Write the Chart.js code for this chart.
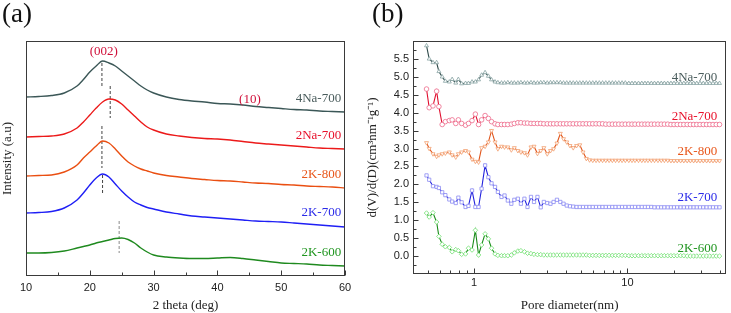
<!DOCTYPE html>
<html>
<head>
<meta charset="utf-8">
<script src="https://cdn.jsdelivr.net/npm/chart.js@4.4.1/dist/chart.umd.min.js"></script>
<style>
  html, body { margin: 0; padding: 0; background: #fff; }
  #wrap { position: relative; width: 731px; height: 313px; overflow: hidden; }
  .panel { position: absolute; top: 0; height: 313px; }
  #boxA { left: 0; width: 365px; }
  #boxB { left: 365px; width: 366px; }
  .tag { position: absolute; top: -2px; font-family: 'Liberation Serif', serif; font-size: 27px; color: #111; }
</style>
</head>
<body>
<div id="wrap">
  <div class="panel" id="boxA"><canvas id="chartA"></canvas></div>
  <div class="panel" id="boxB"><canvas id="chartB"></canvas></div>
  <div class="tag" style="left:2px">(a)</div>
  <div class="tag" style="left:372px">(b)</div>
</div>
<script>
const sampleNames = ['4Na-700', '2Na-700', '2K-800', '2K-700', '2K-600'];

// (a) XRD patterns, intensity in arbitrary units (curves stacked)
const xrdAngles = [10, 12, 14, 16, 18, 19, 20, 21, 22, 23, 24, 25, 26, 27, 28, 29,
                   30, 32, 34, 36, 38, 40, 42, 44, 46, 48, 50, 52, 54, 56, 58, 60];
const xrd4Na700 = [179, 179.5, 180.5, 183, 190, 196.5, 204, 210, 215, 213, 210, 205, 200, 195, 190, 186,
                   183, 179, 176.5, 175, 174, 172.5, 172, 171, 169.5, 168.5, 167.5, 166.5, 166, 165, 164.5, 164];
const xrd2Na700 = [139, 139.5, 140, 142, 148, 154, 161, 168, 174, 177, 176, 172, 166, 160, 154, 149,
                   146, 142, 140, 138.5, 137.5, 137, 136, 134.5, 133, 132, 131, 130, 129, 128, 127.5, 127];
const xrd2K800 = [100, 100.5, 101, 104, 111, 118, 124, 130, 135, 133, 127, 120, 114, 110, 107, 105,
                  103, 100.5, 99, 97.5, 96.5, 95.5, 95, 94, 93, 92.5, 91.5, 91, 90, 89.5, 89, 88];
const xrd2K700 = [63, 63.5, 64.5, 68, 76, 83, 91, 98, 102, 99, 92, 85, 79, 74, 71, 68.5,
                  67, 64, 62, 60, 59, 58, 57, 56, 55, 54.5, 54, 53, 52, 51, 50, 49];
const xrd2K600 = [23, 23, 23.5, 25, 28, 29.5, 31, 33, 34.5, 36, 37.5, 38, 36.5, 33, 28, 24,
                  21, 19, 18, 17.5, 17.5, 18, 18.5, 17.5, 16, 14.5, 13, 12.5, 12, 11, 10.5, 10];
const xrdPeakAngles = [21.9, 23.2, 21.9, 22.0, 24.6];
const xrdPeakTops = [213, 190, 150, 101, 55];
const xrdPeakBottoms = [188, 158, 108, 81, 23];
const xrdPlaneNames = ['(002)', '(10)'];
const xrdTicks = [10, 20, 30, 40, 50, 60];
const xrdMinorTicks = [15, 25, 35, 45, 55];

// (b) pore size distribution
const poreDiameters = [
  0.49, 0.51, 0.54, 0.57, 0.59, 0.62, 0.65, 0.69, 0.72, 0.76,
  0.79, 0.83, 0.88, 0.92, 0.97, 1.02, 1.07, 1.12, 1.18, 1.24,
  1.30, 1.37, 1.43, 1.51, 1.58, 1.66, 1.75, 1.83, 1.93, 2.02,
  2.13, 2.23, 2.35, 2.46, 2.59, 2.72, 2.85, 3.00, 3.15, 3.30,
  3.47, 3.65, 3.83, 4.02, 4.22, 4.43, 4.66, 4.89, 5.13, 5.39,
  5.66, 5.94, 6.24, 6.55, 6.88, 7.22, 7.59, 7.97, 8.36, 8.78,
  9.22, 9.68, 10.2, 10.7, 11.2, 11.8, 12.4, 13.0, 13.6, 14.3,
  15.0, 15.8, 16.6, 17.4, 18.3, 19.2, 20.1, 21.1, 22.2, 23.3,
  24.5, 25.7, 27.0, 28.3, 29.7, 31.2, 32.8, 34.4, 36.1, 37.9, 39.8];
const pore4Na700 = [
  5.87, 5.50, 5.40, 5.40, 5.15, 5.00, 4.88, 4.86, 4.93, 4.83,
  4.93, 4.81, 4.82, 4.82, 4.86, 4.86, 4.92, 5.05, 5.12, 5.02,
  4.92, 4.86, 4.84, 4.83, 4.83, 4.84, 4.83, 4.83, 4.83, 4.84,
  4.83, 4.83, 4.84, 4.83, 4.83, 4.84, 4.84, 4.83, 4.84, 4.84,
  4.84, 4.84, 4.83, 4.83, 4.83, 4.83, 4.83, 4.83, 4.83, 4.83,
  4.83, 4.83, 4.83, 4.83, 4.83, 4.83, 4.83, 4.83, 4.83, 4.83,
  4.83, 4.83, 4.82, 4.82, 4.82, 4.82, 4.82, 4.82, 4.82, 4.82,
  4.82, 4.82, 4.82, 4.82, 4.82, 4.82, 4.82, 4.82, 4.82, 4.82,
  4.82, 4.82, 4.82, 4.82, 4.82, 4.82, 4.82, 4.82, 4.82, 4.82, 4.82];
const pore2Na700 = [
  4.66, 4.14, 4.19, 4.60, 4.17, 3.67, 3.75, 3.78, 3.80, 3.70,
  3.80, 3.70, 3.65, 3.70, 3.78, 3.96, 3.67, 3.80, 3.92, 3.84,
  3.75, 3.69, 3.67, 3.67, 3.67, 3.67, 3.68, 3.70, 3.72, 3.72,
  3.71, 3.71, 3.70, 3.70, 3.70, 3.70, 3.69, 3.69, 3.69, 3.69,
  3.69, 3.69, 3.69, 3.69, 3.69, 3.69, 3.69, 3.69, 3.69, 3.69,
  3.69, 3.69, 3.69, 3.69, 3.69, 3.68, 3.68, 3.68, 3.68, 3.68,
  3.68, 3.68, 3.68, 3.68, 3.68, 3.68, 3.68, 3.68, 3.68, 3.68,
  3.68, 3.68, 3.68, 3.68, 3.68, 3.67, 3.67, 3.67, 3.67, 3.67,
  3.67, 3.67, 3.67, 3.67, 3.67, 3.67, 3.67, 3.67, 3.67, 3.67, 3.67];
const pore2K800 = [
  3.16, 3.00, 2.85, 2.78, 2.82, 2.85, 2.87, 2.90, 2.82, 2.76,
  2.85, 2.90, 2.94, 2.90, 2.70, 2.64, 2.62, 3.02, 3.06, 3.18,
  3.50, 3.18, 2.99, 3.06, 3.04, 3.04, 2.96, 3.02, 2.94, 2.90,
  2.88, 2.82, 3.04, 3.06, 2.86, 2.94, 3.02, 2.85, 2.94, 2.99,
  3.15, 3.42, 3.27, 3.18, 3.08, 3.02, 3.08, 3.10, 2.90, 2.72,
  2.68, 2.67, 2.67, 2.67, 2.67, 2.67, 2.67, 2.67, 2.67, 2.67,
  2.67, 2.67, 2.67, 2.67, 2.67, 2.67, 2.67, 2.67, 2.67, 2.67,
  2.67, 2.67, 2.67, 2.67, 2.67, 2.66, 2.66, 2.66, 2.66, 2.66,
  2.66, 2.66, 2.66, 2.66, 2.66, 2.66, 2.66, 2.66, 2.66, 2.66, 2.66];
const pore2K700 = [
  2.25, 2.13, 1.95, 1.93, 1.90, 1.78, 1.70, 1.58, 1.52, 1.48,
  1.63, 1.50, 1.37, 1.40, 1.83, 1.37, 1.37, 1.88, 2.53, 2.20,
  2.03, 1.93, 1.79, 1.65, 1.69, 1.55, 1.46, 1.57, 1.60, 1.46,
  1.60, 1.37, 1.65, 1.51, 1.65, 1.36, 1.51, 1.48, 1.46, 1.51,
  1.57, 1.51, 1.46, 1.41, 1.39, 1.38, 1.37, 1.37, 1.37, 1.37,
  1.37, 1.37, 1.37, 1.37, 1.37, 1.37, 1.37, 1.37, 1.37, 1.37,
  1.37, 1.37, 1.37, 1.37, 1.37, 1.37, 1.37, 1.37, 1.37, 1.37,
  1.36, 1.36, 1.36, 1.36, 1.36, 1.36, 1.36, 1.36, 1.36, 1.36,
  1.36, 1.36, 1.36, 1.36, 1.36, 1.36, 1.36, 1.36, 1.36, 1.36, 1.36];
const pore2K600 = [
  1.20, 1.09, 1.21, 0.95, 0.55, 0.33, 0.26, 0.24, 0.12, 0.18,
  0.15, 0.05, 0.06, 0.22, 0.17, 0.72, 0.03, 0.31, 0.62, 0.48,
  0.22, 0.06, 0.02, 0.01, 0.01, 0.01, 0.03, 0.09, 0.14, 0.15,
  0.12, 0.08, 0.07, 0.05, 0.04, 0.04, 0.03, 0.03, 0.03, 0.03,
  0.03, 0.03, 0.03, 0.03, 0.03, 0.03, 0.03, 0.03, 0.03, 0.03,
  0.02, 0.02, 0.02, 0.02, 0.02, 0.02, 0.02, 0.02, 0.02, 0.02,
  0.02, 0.02, 0.01, 0.01, 0.01, 0.01, 0.01, 0.01, 0.01, 0.01,
  0.01, 0.01, 0.01, 0.01, 0.01, 0.01, 0.01, 0.01, 0.01, 0.01,
  0.00, 0.00, 0.00, 0.00, 0.00, 0.00, 0.00, 0.00, 0.00, 0.00, 0.00];
const poreXTicks = [1, 10];
const poreXMinorTicks = [0.5, 0.6, 0.7, 0.8, 0.9, 2, 3, 4, 5, 6, 7, 8, 9, 20, 30, 40];
const poreYTicks = [0, 0.5, 1, 1.5, 2, 2.5, 3, 3.5, 4, 4.5, 5, 5.5];
const poreYMinorTicks = [-0.25, 0.25, 0.75, 1.25, 1.75, 2.25, 2.75, 3.25, 3.75, 4.25, 4.75, 5.25, 5.75];

const xrdColors = ['#3b5757', '#ec1a1a', '#ea4f12', '#1f1ff5', '#1f8a1f'];
const poreLineColors = ['#2f4a4a', '#e01030', '#e0541a', '#2222dd', '#178a17'];
const porePointColors = ['#88a3a3', '#ee6a8a', '#f2a070', '#8a8af2', '#6fe06f'];
const poreMarkers = [['triangle', 0], ['circle', 0], ['triangle', 180], ['rect', 0], ['rectRot', 0]];
const labelColors = ['#4a5c5c', '#e8102a', '#e8561a', '#2a2ae8', '#1f951f'];

const serif = "'Liberation Serif', 'Times New Roman', serif";
const sans = "'Liberation Sans', Arial, sans-serif";

// box round the plot area, plus inward tick marks
const framePlugin = {
  id: 'frame',
  afterDatasetsDraw(chart, args, opts) {
    const {ctx, chartArea: a, scales} = chart;
    ctx.save();
    ctx.strokeStyle = '#3a3a3a';
    ctx.lineWidth = 1;
    ctx.strokeRect(Math.round(a.left) + 0.5, Math.round(a.top) + 0.5,
                   Math.round(a.right - a.left) - 1, Math.round(a.bottom - a.top) - 1);
    const tick = (x1, y1, x2, y2) => { ctx.beginPath(); ctx.moveTo(x1, y1); ctx.lineTo(x2, y2); ctx.stroke(); };
    const b = Math.round(a.bottom) - 0.5, l = Math.round(a.left) + 0.5;
    (opts.xMajor || []).forEach(v => { const x = Math.round(scales.x.getPixelForValue(v)) + 0.5; tick(x, b, x, b - 5); });
    (opts.xMinor || []).forEach(v => { const x = Math.round(scales.x.getPixelForValue(v)) + 0.5; tick(x, b, x, b - 3); });
    (opts.yMajor || []).forEach(v => { const y = Math.round(scales.y.getPixelForValue(v)) + 0.5; tick(l, y, l + 5, y); });
    (opts.yMinor || []).forEach(v => { const y = Math.round(scales.y.getPixelForValue(v)) + 0.5; tick(l, y, l + 3, y); });
    ctx.restore();
  }
};

// text placed at data coordinates
const textPlugin = {
  id: 'texts',
  afterDatasetsDraw(chart, args, opts) {
    const {ctx, scales} = chart;
    ctx.save();
    ctx.textBaseline = 'middle';
    (opts.items || []).forEach(t => {
      ctx.font = (t.size || 13) + 'px ' + serif;
      ctx.fillStyle = t.color;
      ctx.textAlign = t.align || 'center';
      ctx.fillText(t.text, scales.x.getPixelForValue(t.x), scales.y.getPixelForValue(t.y));
    });
    ctx.restore();
  }
};

// ---------- panel (a) ----------
const xrdSeries = [xrd4Na700, xrd2Na700, xrd2K800, xrd2K700, xrd2K600];
const xrdLabelHeights = [177, 140, 101, 63, 23];
const xrdDatasets = xrdSeries.map((s, i) => ({
  label: sampleNames[i],
  data: xrdAngles.map((a, k) => ({x: a, y: s[k]})),
  borderColor: xrdColors[i],
  borderWidth: 1.4,
  pointRadius: 0,
  tension: 0.4,
  cubicInterpolationMode: 'monotone'
}));
xrdPeakAngles.forEach((a, i) => {
  xrdDatasets.push({
    data: [{x: a, y: xrdPeakTops[i]}, {x: a, y: xrdPeakBottoms[i]}],
    borderColor: i === 4 ? '#8a8a8a' : '#444',
    borderWidth: 1,
    borderDash: [3, 2],
    pointRadius: 0
  });
});

new Chart(document.getElementById('chartA'), {
  type: 'line',
  data: {datasets: xrdDatasets},
  options: {
    responsive: true,
    maintainAspectRatio: false,
    animation: false,
    layout: {padding: {left: 0, top: 41, right: 20, bottom: 0}},
    scales: {
      x: {
        type: 'linear', min: 10, max: 60,
        grid: {display: false, drawTicks: false},
        border: {display: false},
        afterBuildTicks: s => { s.ticks = xrdTicks.map(v => ({value: v})); },
        afterFit: s => { s.height = 37; },
        ticks: {padding: 5, color: '#222', font: {family: sans, size: 11}, maxRotation: 0},
        title: {display: true, text: '2 theta (deg)', color: '#222', padding: 0, font: {family: serif, size: 13}}
      },
      y: {
        type: 'linear', min: 0, max: 235,
        grid: {display: false, drawTicks: false},
        border: {display: false},
        ticks: {display: false},
        afterFit: s => { s.width = 26; },
        title: {display: true, text: 'Intensity (a.u)', color: '#222', padding: 0, font: {family: serif, size: 13}}
      }
    },
    plugins: {
      legend: {display: false},
      tooltip: {enabled: false},
      frame: {xMajor: xrdTicks, xMinor: xrdMinorTicks},
      texts: {
        items: sampleNames.map((n, i) => ({text: n, x: 59.4, y: xrdLabelHeights[i], color: labelColors[i], align: 'right'}))
          .concat([
            {text: xrdPlaneNames[0], x: 22.2, y: 224, color: '#d0103a'},
            {text: xrdPlaneNames[1], x: 45.1, y: 176, color: '#d0103a'}
          ])
      }
    }
  },
  plugins: [framePlugin, textPlugin]
});

// ---------- panel (b) ----------
const poreSeries = [pore4Na700, pore2Na700, pore2K800, pore2K700, pore2K600];
const poreLabelHeights = [4.99, 3.89, 2.92, 1.64, 0.22];
const poreDatasets = poreSeries.map((s, i) => ({
  label: sampleNames[i],
  data: poreDiameters.map((d, k) => ({x: d, y: s[k]})),
  borderColor: poreLineColors[i],
  borderWidth: 1.1,
  pointStyle: poreMarkers[i][0],
  rotation: poreMarkers[i][1],
  pointRadius: 2.3,
  pointBorderWidth: 0.8,
  pointBorderColor: porePointColors[i],
  pointBackgroundColor: '#fff',
  tension: 0
}));

new Chart(document.getElementById('chartB'), {
  type: 'line',
  data: {datasets: poreDatasets},
  options: {
    responsive: true,
    maintainAspectRatio: false,
    animation: false,
    layout: {padding: {left: 0, top: 41, right: 2, bottom: 0}},
    scales: {
      x: {
        type: 'logarithmic', min: 0.4, max: 44,
        grid: {display: false, drawTicks: false},
        border: {display: false},
        afterBuildTicks: s => { s.ticks = poreXTicks.map(v => ({value: v})); },
        afterFit: s => { s.height = 39; },
        ticks: {padding: 2, color: '#222', font: {family: sans, size: 11}, maxRotation: 0, callback: v => String(v)},
        title: {display: true, text: 'Pore diameter(nm)', color: '#222', padding: 0, font: {family: serif, size: 13}}
      },
      y: {
        type: 'linear', min: -0.5, max: 6.0,
        grid: {display: false, drawTicks: false},
        border: {display: false},
        afterBuildTicks: s => { s.ticks = poreYTicks.map(v => ({value: v})); },
        afterFit: s => { s.width = 48; },
        ticks: {padding: 4, color: '#222', font: {family: sans, size: 11}, callback: v => Number(v).toFixed(1)},
        title: {display: true, text: 'd(V)/d(D)(cm³nm⁻¹g⁻¹)', color: '#222', padding: 0, font: {family: serif, size: 13}}
      }
    },
    plugins: {
      legend: {display: false},
      tooltip: {enabled: false},
      frame: {xMajor: poreXTicks, xMinor: poreXMinorTicks, yMajor: poreYTicks, yMinor: poreYMinorTicks},
      texts: {
        items: sampleNames.map((n, i) => ({text: n, x: 38.4, y: poreLabelHeights[i], color: labelColors[i], align: 'right'}))
      }
    }
  },
  plugins: [framePlugin, textPlugin]
});
</script>
</body>
</html>
